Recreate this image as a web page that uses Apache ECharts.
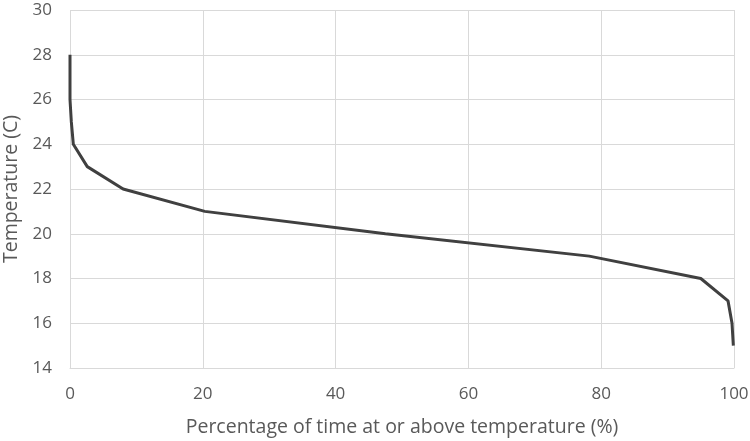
<!DOCTYPE html>
<html>
<head>
<meta charset="utf-8">
<script src="https://cdn.jsdelivr.net/npm/echarts@6/dist/echarts.min.js"></script>
<style>
  html, body { margin: 0; padding: 0; background: #fff; }
  #chart { width: 750px; height: 441px; }
</style>
</head>
<body>
<div id="chart"></div>
<script>
// Exceedance curve: % of time at or above each temperature
const percentTime = [0, 0, 0, 0.2, 0.5, 2.6, 8.0, 20.3, 47.5, 78.2, 95.0, 99.1, 99.7, 99.9]
const temperature = [28, 27, 26, 25, 24, 23, 22, 21, 20, 19, 18, 17, 16, 15]

const labelColor = '#595959'
const gridColor = '#d9d9d9'
const fontFamily = '"Open Sans", "Liberation Sans", sans-serif'

const chart = echarts.init(document.getElementById('chart'))

chart.setOption({
  animation: false,
  grid: { left: 70, right: 16, top: 10, bottom: 73, outerBoundsMode: 'none', containLabel: false },
  xAxis: {
    type: 'value',
    min: 0,
    max: 100,
    interval: 20,
    name: 'Percentage of time at or above temperature (%)',
    nameLocation: 'middle',
    nameGap: 49,
    nameTextStyle: { color: labelColor, fontSize: 19.5, fontFamily },
    axisLine: { show: true, lineStyle: { color: gridColor, width: 1 } },
    axisTick: { show: false },
    axisLabel: { color: labelColor, fontSize: 17, fontFamily, margin: 18 },
    splitLine: { show: true, lineStyle: { color: gridColor, width: 1 } },
  },
  yAxis: {
    type: 'value',
    min: 14,
    max: 30,
    interval: 2,
    name: 'Temperature (C)',
    nameLocation: 'middle',
    nameGap: 47,
    nameTextStyle: { color: labelColor, fontSize: 19.5, fontFamily },
    axisLine: { show: false },
    axisTick: { show: false },
    axisLabel: { color: labelColor, fontSize: 17, fontFamily, margin: 18 },
    splitLine: { show: true, lineStyle: { color: gridColor, width: 1 } },
  },
  series: [
    {
      type: 'line',
      data: percentTime.map((p, i) => [p, temperature[i]]),
      symbol: 'none',
      smooth: false,
      lineStyle: { color: '#404040', width: 3 },
    },
  ],
})
</script>
</body>
</html>
